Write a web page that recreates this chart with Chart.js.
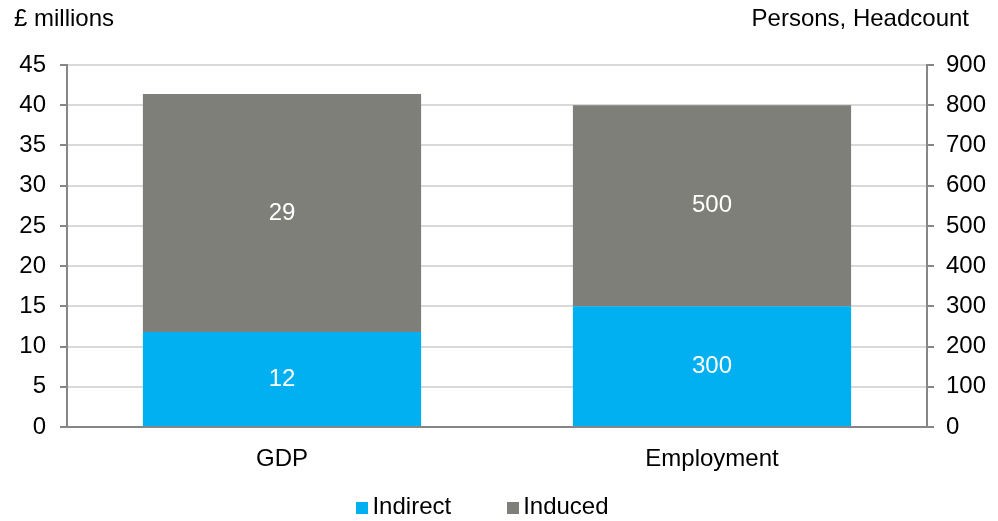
<!DOCTYPE html>
<html>
<head>
<meta charset="utf-8">
<script src="https://cdn.jsdelivr.net/npm/chart.js@4.4.0/dist/chart.umd.min.js"></script>
<style>
  body { margin: 0; background: #fff; font-family: "Liberation Sans", Arial, sans-serif; }
  #wrap { position: relative; width: 998px; height: 521px; }
  .ttl { position: absolute; top: 4px; font-size: 24px; color: #000; }
  #legend { position: absolute; left: 0; width: 998px; top: 492px; text-align: center; font-size: 24px; padding-right: 33px; box-sizing: border-box; }
  #legend span.item { display: inline-block; margin: 0 28px; }
  #legend span.box { display: inline-block; width: 12px; height: 12px; margin-right: 4px; }
</style>
</head>
<body>
<div id="wrap">
  <canvas id="chart" width="998" height="521"></canvas>
  <div class="ttl" style="left:14px">£ millions</div>
  <div class="ttl" style="right:29px">Persons, Headcount</div>
  <div id="legend"></div>
</div>
<script>
// data
const categories = ['GDP', 'Employment']
const seriesNames = ['Indirect', 'Induced']
const seriesColors = ['#00b0f0', '#7f7f79']
const gdpValues = [11.8, 29.6]        // £ millions
const gdpLabels = ['12', '29']
const employmentValues = [300, 500]   // persons
const employmentLabels = ['300', '500']
const leftTicks = [0, 45, 5]
const rightTicks = [0, 900, 100]

const axisGrey = '#868686'
const gridGrey = '#d9d9d9'
const fontFamily = '"Liberation Sans", Arial, sans-serif'

// one dataset per series per axis, all in one stack so they share a slot
const datasets = []
seriesNames.forEach((name, i) => {
    datasets.push({
        label: name,
        data: [gdpValues[i], null],
        txt: [gdpLabels[i], null],
        backgroundColor: seriesColors[i],
        yAxisID: 'y',
        stack: 'all'
    })
})
seriesNames.forEach((name, i) => {
    datasets.push({
        label: name,
        data: [null, employmentValues[i]],
        txt: [null, employmentLabels[i]],
        backgroundColor: seriesColors[i],
        yAxisID: 'y1',
        stack: 'all'
    })
})

//bar labels
const barText = {
    id: 'barText',
    afterDatasetsDraw(chart) {
        const ctx = chart.ctx
        ctx.save()
        ctx.fillStyle = '#fff'
        ctx.font = '24px ' + fontFamily
        ctx.textAlign = 'center'
        ctx.textBaseline = 'middle'
        chart.data.datasets.forEach((ds, di) => {
            chart.getDatasetMeta(di).data.forEach((bar, j) => {
                if (ds.data[j] == null) return
                const p = bar.getProps(['x', 'y', 'base'], true)
                ctx.fillText(ds.txt[j], p.x, (p.y + p.base) / 2)
            })
        })
        ctx.restore()
    }
}

const tickFont = { family: fontFamily, size: 24 }

const ctx = document.getElementById('chart').getContext('2d')
const myChart = new Chart(ctx, {
    type: 'bar',
    data: { labels: categories, datasets: datasets },
    plugins: [barText],
    options: {
        responsive: false,
        animation: false,
        layout: { padding: { top: 65, bottom: 0, left: 0, right: 0 } },
        datasets: { bar: { barPercentage: 1, categoryPercentage: 0.647 } },
        plugins: {
            legend: { display: false },
            tooltip: { enabled: false }
        },
        scales: {
            x: {
                stacked: true,
                grid: { display: false },
                border: { color: axisGrey, width: 2 },
                ticks: { color: '#000', font: tickFont, padding: 10 },
                afterFit: s => { s.height = 94 }
            },
            y: {
                stacked: true,
                position: 'left',
                min: leftTicks[0], max: leftTicks[1],
                ticks: { stepSize: leftTicks[2], color: '#000', font: tickFont, padding: 14 },
                grid: { color: gridGrey, lineWidth: 2, tickColor: axisGrey, tickLength: 7 },
                border: { color: axisGrey, width: 2 },
                afterFit: s => { s.width = 67 }
            },
            y1: {
                stacked: true,
                position: 'right',
                min: rightTicks[0], max: rightTicks[1],
                ticks: { stepSize: rightTicks[2], color: '#000', font: tickFont, padding: 12 },
                grid: { drawOnChartArea: false, tickColor: axisGrey, tickLength: 7, lineWidth: 2 },
                border: { color: axisGrey, width: 2 },
                afterFit: s => { s.width = 71 }
            }
        }
    }
})

//legend
const legendDiv = document.getElementById('legend')
seriesNames.forEach((name, i) => {
    legendDiv.innerHTML += '<span class="item"><span class="box" style="background:' + seriesColors[i] + '"></span>' + name + '</span>'
})
</script>
</body>
</html>
